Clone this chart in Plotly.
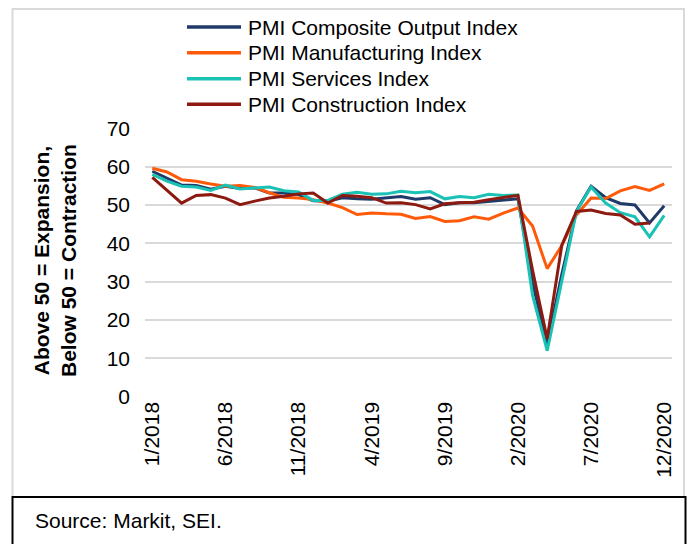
import plotly.graph_objects as go

W, H = 688, 544

months = [f"{m}/{y}" for y in (2018, 2019, 2020) for m in range(1, 13)]
tick_labels = ["1/2018", "6/2018", "11/2018", "4/2019", "9/2019", "2/2020", "7/2020", "12/2020"]

composite = [58.8, 57.1, 55.2, 55.1, 54.1, 54.9, 54.3, 54.5, 53.1, 53.1, 52.7, 51.1,
             51.0, 51.9, 51.6, 51.5, 51.8, 52.2, 51.5, 51.9, 50.1, 50.6, 50.6, 50.9,
             51.3, 51.6, 29.7, 13.6, 31.9, 48.5, 54.9, 51.9, 50.4, 50.0, 45.3, 49.8]
manufacturing = [59.6, 58.6, 56.6, 56.2, 55.5, 54.9, 55.1, 54.6, 53.2, 52.0, 51.8, 51.4,
                 50.5, 49.3, 47.5, 47.9, 47.7, 47.6, 46.5, 47.0, 45.7, 45.9, 46.9, 46.3,
                 47.9, 49.2, 44.5, 33.4, 39.4, 47.4, 51.8, 51.7, 53.7, 54.8, 53.8, 55.5]
services = [58.0, 56.2, 54.9, 54.7, 53.8, 55.2, 54.2, 54.4, 54.7, 53.7, 53.4, 51.2,
            51.2, 52.8, 53.3, 52.8, 52.9, 53.6, 53.2, 53.5, 51.6, 52.2, 51.9, 52.8,
            52.5, 52.6, 26.4, 12.0, 30.5, 48.3, 54.7, 50.5, 48.0, 46.9, 41.7, 47.3]
construction = [57.2, 53.9, 50.5, 52.5, 52.7, 51.8, 50.1, 51.0, 51.8, 52.3, 52.9, 53.1,
                50.5, 52.5, 52.3, 51.9, 50.5, 50.6, 50.1, 49.0, 50.3, 50.6, 50.7, 51.4,
                51.9, 52.5, 33.0, 15.1, 39.5, 48.3, 48.7, 47.8, 47.4, 45.0, 45.3, None]

series = [
    ("PMI Composite Output Index", composite, "#1F3A68"),
    ("PMI Manufacturing Index", manufacturing, "#FF5A0A"),
    ("PMI Services Index", services, "#19C2B5"),
    ("PMI Construction Index", construction, "#8C1A10"),
]

FONT = "Liberation Sans, Arial, sans-serif"

fig = go.Figure()
for name, vals, col in series:
    fig.add_trace(go.Scatter(x=months, y=vals, mode="lines", name=name,
                             line=dict(color=col, width=3), showlegend=False))

def px_x(v):
    return v / W

def px_y(v):
    return (H - v) / H

shapes = []
annotations = []

# hand-drawn legend (longer line samples than plotly's own legend)
rows = [27, 52.7, 78.7, 104.3]
for (name, vals, col), ry in zip(series, rows):
    shapes.append(dict(type="line", xref="paper", yref="paper",
                       x0=px_x(187), x1=px_x(241), y0=px_y(ry), y1=px_y(ry),
                       line=dict(color=col, width=3.5)))
    annotations.append(dict(text=name, xref="paper", yref="paper",
                            x=px_x(246), y=px_y(ry), xanchor="left", yanchor="middle",
                            showarrow=False, font=dict(size=21, color="#000", family=FONT)))

# outer chart frame and source box
shapes.append(dict(type="rect", xref="paper", yref="paper",
                   x0=px_x(12.5), x1=px_x(684), y0=px_y(497), y1=px_y(9),
                   line=dict(color="#D9D9D9", width=2)))
shapes.append(dict(type="rect", xref="paper", yref="paper",
                   x0=px_x(12.5), x1=px_x(685.5), y0=px_y(560), y1=px_y(497),
                   line=dict(color="#000", width=2)))

annotations.append(dict(text="Source: Markit, SEI.", xref="paper", yref="paper",
                        x=px_x(33), y=px_y(520), xanchor="left", yanchor="middle",
                        showarrow=False, font=dict(size=21, color="#000", family=FONT)))
annotations.append(dict(text="<b>Above 50 = Expansion,<br>Below 50 = Contraction</b>",
                        xref="paper", yref="paper", x=px_x(55), y=px_y(261),
                        xanchor="center", yanchor="middle", textangle=-90,
                        showarrow=False, font=dict(size=21, color="#000", family=FONT)))

fig.update_layout(
    width=W, height=H,
    margin=dict(l=0, r=0, t=0, b=0),
    paper_bgcolor="white", plot_bgcolor="white",
    font=dict(family=FONT, size=21, color="#000"),
    shapes=shapes, annotations=annotations,
    xaxis=dict(domain=[px_x(145), px_x(671.5)], type="category",
               range=[-0.5, 35.5], tickmode="array", tickvals=tick_labels, ticktext=tick_labels,
               tickangle=-90, showgrid=False, zeroline=False, showline=False,
               ticks="", automargin=False, tickfont=dict(size=21)),
    yaxis=dict(domain=[px_y(396.7), px_y(128.3)], range=[0, 70], dtick=10,
               showgrid=True, gridcolor="#D9D9D9", gridwidth=1.5, zeroline=False,
               showline=False, ticks="", ticklabelstandoff=14, automargin=False,
               tickfont=dict(size=21)),
)

# drop the page's default body margin so the figure fills the window exactly
fig.write_html("out.html", config={"displayModeBar": False},
               post_script="document.body.style.margin='0';document.body.style.overflow='hidden';")
